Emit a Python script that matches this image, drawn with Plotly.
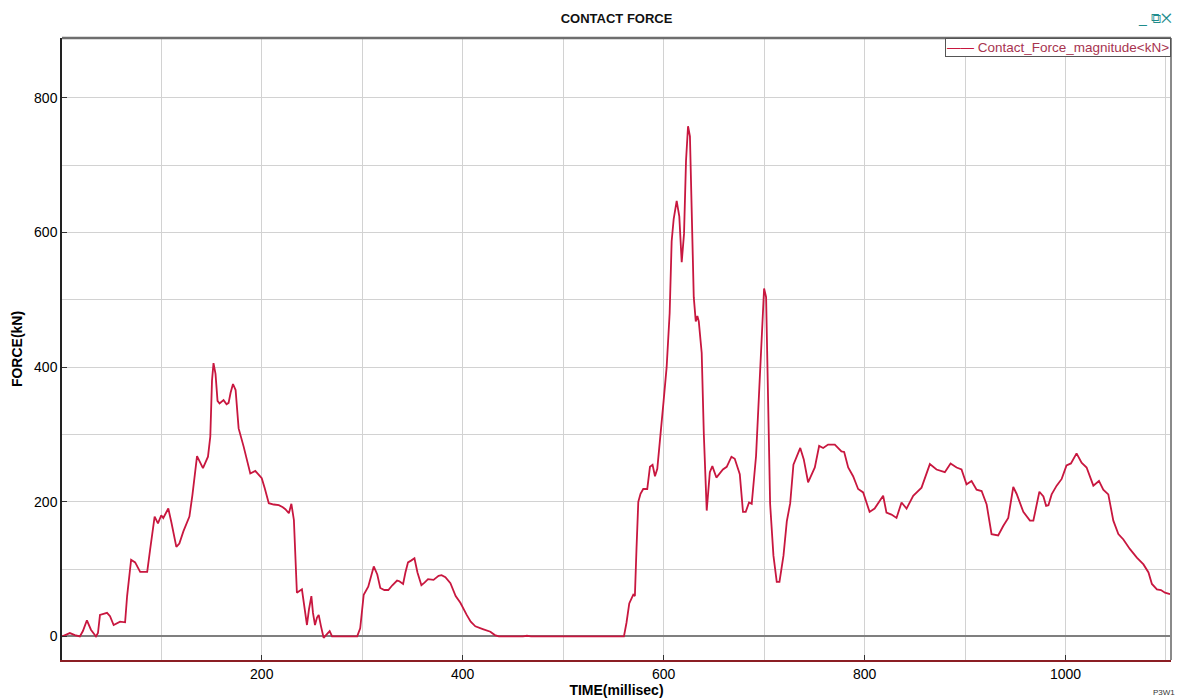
import plotly.graph_objects as go

# Contact force magnitude sampled over the crash event
time_ms = [
    1.2, 9, 14, 19, 22, 26, 30, 35, 37, 39, 46, 49, 52.6, 56, 59, 64, 66, 70, 74, 79,
    86, 89, 93.4, 96.7, 100, 102, 107, 110, 115, 118, 122, 128, 131, 135.6, 141.5,
    146.5, 148.8, 150.5, 152, 154, 156, 158, 162, 165, 167, 169, 171.4, 174, 175.5,
    177, 182, 185, 188.6, 193.6, 197, 200, 203, 207, 212, 217, 221, 223.5, 227,
    229.5, 232, 235, 240, 243, 245, 247, 249.4, 251, 253, 255, 256.7, 259, 261.6,
    264, 267.6, 270, 295, 298, 300, 301.5, 306, 309, 311.5, 315, 318, 322, 326,
    330, 334.7, 337, 340.7, 343, 345.6, 349, 352, 355, 358.9, 362, 365.5, 371, 376,
    379, 382.8, 387.8, 393, 397.7, 401, 404, 408, 412.6, 420, 427.6, 432, 436, 460,
    464, 468, 560.5, 563, 565.8, 569.8, 571.4, 573, 574.8, 577, 579.7, 583.7, 586.4,
    589, 591.4, 593.7, 596.3, 600, 603, 606, 608, 610, 613, 615.6, 618, 620.3,
    622.3, 624.3, 626.2, 628, 630, 632, 633.6, 635, 637.9, 640, 642.9, 646, 648.5,
    652.5, 659, 662.8, 667.5, 670.8, 675.8, 679, 681.7, 685, 687.7, 692, 696, 700,
    702, 704.3, 706, 709.3, 712.6, 715.3, 719.3, 722.6, 726, 729.2, 736, 739.5,
    743.8, 750.5, 754.8, 758.8, 763.7, 770.4, 777, 779.7, 783.7, 788.6, 793.6,
    798.6, 805, 810, 818.5, 821.8, 826.8, 831.8, 836.8, 841.8, 848.4, 856.7, 865,
    871.6, 879.9, 885.6, 891.6, 896.5, 901.5, 906.5, 911.5, 916.5, 921.5, 926.4,
    933, 938, 943, 948, 951.3, 958, 964.6, 968, 974, 978, 980.7, 983, 986.2, 991.2,
    996.2, 1001, 1005.4, 1011, 1016, 1021, 1027.7, 1033.3, 1037.6, 1042.6, 1047.6,
    1052.6, 1057.6, 1064, 1071, 1077.6, 1082.6, 1086, 1091, 1095, 1099, 1104,
]
force_kn = [
    0, 5, 2, 0, 8, 24, 10, 0, 5, 32, 35, 30, 17, 20, 22, 21, 60, 114, 110, 96,
    96, 130, 178, 168, 180, 176, 190, 170, 133, 138, 156, 178, 210, 268, 250,
    267, 297, 380, 406, 390, 350, 346, 351, 345, 347, 362, 375, 366, 330,
    309, 282, 265, 242, 246, 240, 235, 220, 198, 196, 195, 192, 189, 183,
    197, 173, 65, 70, 40, 17, 40, 60, 35, 17, 28, 32, 15, -2,
    2, 8, 0, 0, 12, 40, 62, 74, 90, 104, 92, 72, 69, 69,
    76, 83, 82, 78, 95, 110, 113, 116, 95, 76, 80, 85, 84, 90,
    91, 88, 79, 60, 50, 40, 32, 22, 15, 11, 7, 2, 0, 0,
    1, 0, 0, 20, 49, 62, 60, 130, 200, 212, 219, 219, 252,
    255, 238, 249, 296, 350, 400, 480, 587, 620, 647, 624, 556, 598,
    707, 758, 743, 639, 504, 468, 476, 468, 421, 301, 187, 244, 253,
    236, 248, 252, 267, 264, 241, 185, 185, 199, 197, 268, 400, 517,
    504, 353, 197, 120, 81, 81, 120, 171, 198, 255, 280, 263,
    229, 251, 283, 280, 285, 285, 275, 274, 251, 238, 219,
    214, 185, 190, 209, 184, 181, 176, 199, 190, 209, 221, 256,
    248, 244, 257, 251, 248, 226, 231, 218, 216, 196, 152,
    150, 164, 176, 222, 212, 185, 172, 172, 215, 208, 194, 195, 211, 224,
    234, 254, 257, 272, 258, 251, 224, 231, 218, 211, 172,
    152, 144, 130, 117, 107, 95, 78, 70, 69, 65, 63,
]

series_name = "Contact_Force_magnitude<kN>"
x_tick_values = [200, 400, 600, 800, 1000]
y_tick_values = [0, 200, 400, 600, 800]

LINE_COLOR = "#C8173F"
LEGEND_TEXT = "#A8344F"
GRID_COLOR = "#D2D2D2"
FONT = "Liberation Sans, Arial, sans-serif"

fig = go.Figure()
fig.add_trace(go.Scatter(
    x=time_ms, y=force_kn, mode="lines", name=series_name, showlegend=False,
    line=dict(color=LINE_COLOR, width=1.8),
))

fig.update_layout(
    width=1180, height=700,
    margin=dict(l=62, r=9, t=38, b=40),
    paper_bgcolor="white", plot_bgcolor="white",
    font=dict(family=FONT, size=14, color="black"),
    title=dict(text="<b>CONTACT FORCE</b>", x=0.5225, xanchor="center",
               y=0.973, yanchor="middle", font=dict(size=13, color="#111")),
)

fig.update_xaxes(
    range=[1.2, 1105], tickmode="array", tickvals=x_tick_values,
    ticks="inside", ticklen=5, tickcolor="#333",
    showgrid=True, gridcolor=GRID_COLOR, gridwidth=1,
    minor=dict(dtick=100, tick0=0, showgrid=True, gridcolor=GRID_COLOR, gridwidth=1),
    showline=True, linecolor="#8B1E24", linewidth=2, mirror=False,
    zeroline=False, automargin=False,
    title=dict(text="<b>TIME(millisec)</b>", standoff=0, font=dict(size=14)),
    tickfont=dict(size=14),
)
fig.update_yaxes(
    range=[-35, 889], tickmode="array", tickvals=y_tick_values,
    ticks="inside", ticklen=5, tickcolor="#333",
    showgrid=True, gridcolor=GRID_COLOR, gridwidth=1,
    minor=dict(dtick=100, tick0=0, showgrid=True, gridcolor=GRID_COLOR, gridwidth=1),
    showline=True, linecolor="#222", linewidth=1.5,
    zeroline=True, zerolinecolor="#7F7F7F", zerolinewidth=2, automargin=False,
    title=dict(text="<b>FORCE(kN)</b>", standoff=8, font=dict(size=14)),
    tickfont=dict(size=14),
)

# Frame: darker top edge and light right edge of the plot window
fig.add_shape(type="line", xref="paper", yref="paper", x0=0, x1=1, y0=1, y1=1,
              line=dict(color="#6E6E6E", width=2.5))
fig.add_shape(type="line", xref="paper", yref="paper", x0=1, x1=1, y0=0, y1=1,
              line=dict(color="#8A8A8A", width=2))

# Compact legend box in the top-right corner
fig.add_annotation(
    text=f"<span style='color:{LINE_COLOR}'>\u2014\u2014</span> {series_name.replace('<', '&lt;').replace('>', '&gt;')}",
    xref="paper", yref="paper", x=1, y=1, xanchor="right", yanchor="top",
    showarrow=False, align="left", bgcolor="white",
    bordercolor="#555", borderwidth=1, borderpad=1,
    font=dict(size=13.5, color=LEGEND_TEXT),
)

# Window controls and page id
fig.add_annotation(text="_ \u29c9\u2715", xref="paper", yref="paper",
                   x=1.003, y=1.032, xanchor="right", yanchor="middle",
                   showarrow=False, font=dict(size=14, color="#1E8C8C"))
fig.add_annotation(text="P3W1", xref="paper", yref="paper",
                   x=1.005, y=-0.052, xanchor="right", yanchor="middle",
                   showarrow=False, font=dict(size=8, color="#333"))

fig.write_html("out.html")
